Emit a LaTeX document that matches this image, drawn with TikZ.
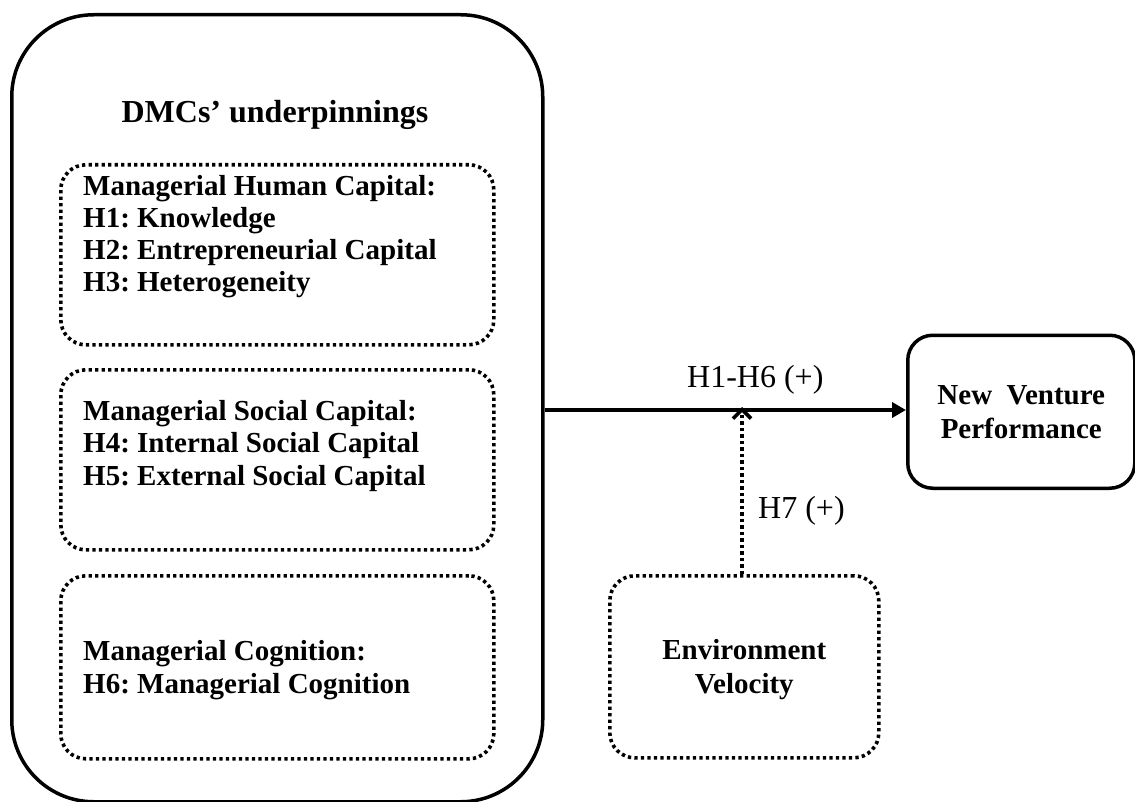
\documentclass[tikz,border=0pt]{standalone}
\usepackage{fontspec}
\setmainfont{Liberation Serif}
\usetikzlibrary{arrows.meta}
\frenchspacing
\begin{document}
\begin{tikzpicture}[x=1pt,y=-1pt,
  solidbox/.style={draw, line width=3.5pt, inner sep=0pt, anchor=north west},
  dotbox/.style={draw, line width=3.6pt, dash pattern=on 3.3pt off 3.2pt, rounded corners=25pt, inner sep=0pt, anchor=north west},
  boxtext/.style={anchor=base west, align=left, inner sep=0pt, font=\fontsize{29}{32.3}\selectfont\bfseries},
  centext/.style={anchor=base, align=center, inner sep=0pt, font=\fontsize{29}{34}\selectfont\bfseries},
  lbl/.style={anchor=base west, inner sep=0pt, font=\fontsize{32}{36}\selectfont},
  mainarrow/.style={line width=4pt, -{Triangle[length=14pt,width=15pt]}},
  modarrow/.style={line width=3.6pt, dash pattern=on 3.3pt off 3.2pt, -{Straight Barb[length=9pt,width=18pt]}}
]
\useasboundingbox (0,0) rectangle (1135,802);
% main container
\node[solidbox, rounded corners=82pt, minimum width=531pt, minimum height=787pt] (dmc) at (10,13) {};
\node[anchor=base, inner sep=0pt, font=\fontsize{32}{36}\selectfont\bfseries] (title) at (275,123) {DMCs’ underpinnings};
% inner dotted boxes
\node[dotbox, minimum width=433pt, minimum height=180pt] (hc) at (59,163) {};
\node[boxtext] (hctext) at (83,292) {Managerial Human Capital:\\H1: Knowledge\\H2: Entrepreneurial Capital\\H3: Heterogeneity};
\node[dotbox, minimum width=433pt, minimum height=180pt] (sc) at (59,368) {};
\node[boxtext] (sctext) at (83,485) {Managerial Social Capital:\\H4: Internal Social Capital\\H5: External Social Capital};
\node[dotbox, minimum width=433pt, minimum height=183pt] (mc) at (59,574) {};
\node[boxtext] (mctext) at (83,693) {Managerial Cognition:\\H6: Managerial Cognition};
% outcome
\node[solidbox, rounded corners=25pt, minimum width=227pt, minimum height=153pt] (nvp) at (906,333.5) {};
\node[centext] (nvptext) at (nvp.center |- 0,438) {New\ \ Venture\\Performance};
% moderator
\node[dotbox, minimum width=269pt, minimum height=182pt] (ev) at (608,574) {};
\node[centext] (evtext) at (ev.center |- 0,693) {Environment\\Velocity};
% connectors
\coordinate (ay) at (0,410);
\coordinate (jn) at (742,410);
\draw[mainarrow] (dmc.east |- ay) -- (nvp.west |- ay);
\node[lbl] (l1) at (687,387) {H1-H6 (+)};
\draw[modarrow] (ev.north -| jn) -- ([yshift=3pt]jn);
\node[lbl] (l2) at (758,518) {H7 (+)};
\end{tikzpicture}
\end{document}
